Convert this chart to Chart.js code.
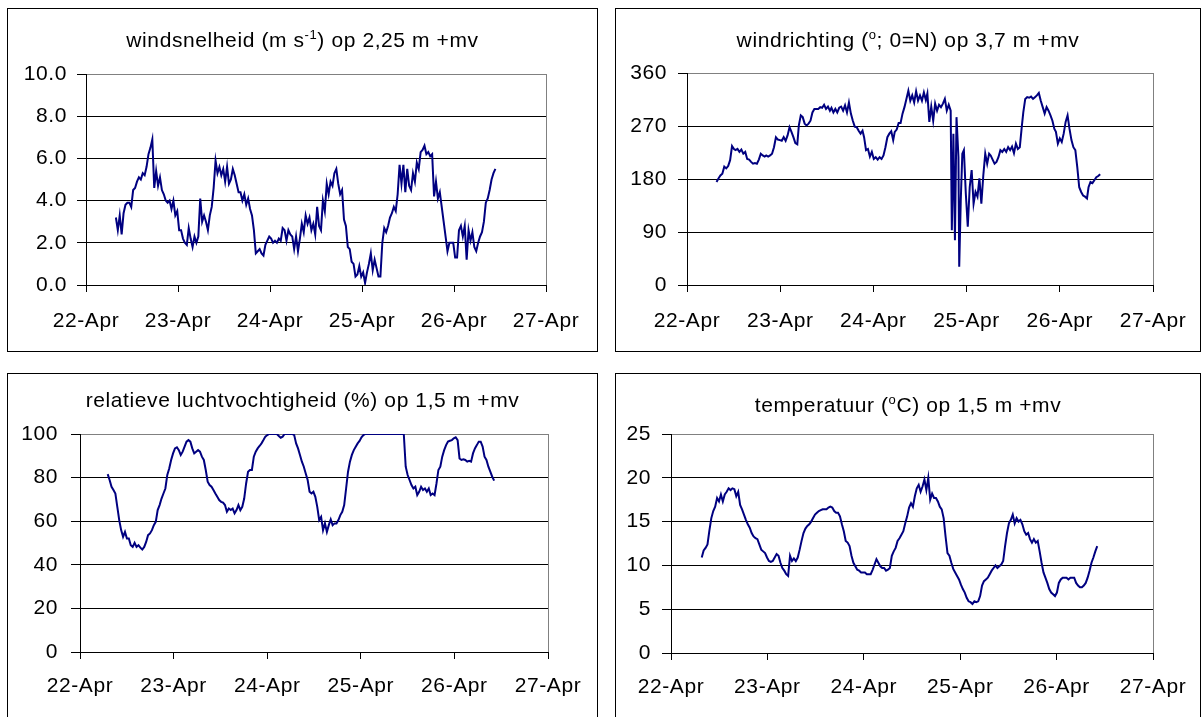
<!DOCTYPE html>
<html>
<head>
<meta charset="utf-8">
<script src="https://cdn.jsdelivr.net/npm/chart.js@4.4.1/dist/chart.umd.min.js"></script>
<style>
  html, body { margin: 0; padding: 0; background: #fff; }
  body { width: 1201px; height: 717px; position: relative; overflow: hidden; }
  .panel { position: absolute; border: 1px solid #000; box-sizing: border-box; }
  canvas { position: absolute; }
</style>
</head>
<body>
<div class="panel" id="b1"></div>
<div class="panel" id="b2"></div>
<div class="panel" id="b3"></div>
<div class="panel" id="b4"></div>
<canvas id="c1"></canvas>
<canvas id="c2"></canvas>
<canvas id="c3"></canvas>
<canvas id="c4"></canvas>
<script>
// Tick labels of the shared time axis (hours since 22-Apr 00:00, one label per day)
const dayLabels = ['22-Apr', '23-Apr', '24-Apr', '25-Apr', '26-Apr', '27-Apr'];

// Wind speed (m/s) at 2.25 m, half-hourly from 22-Apr 07:48
const windSpeedStartHour = 7.8;
const windSpeedStepHours = 0.5;
const windSpeed = [
  3.2,2.6,3.3,2.4,3.4,3.8,3.9,3.9,3.7,4.5, 4.6,4.9,5.1,5.0,5.3,5.2,5.6,6.2,6.5,6.9,
  4.6,5.4,4.7,5.1,4.5,4.3,4.0,3.9,4.0,3.6, 4.0,3.3,3.5,2.6,2.6,2.2,2.0,1.9,2.7,2.2,
  1.8,2.3,2.0,2.3,4.1,3.0,3.3,3.0,2.6,3.3, 3.7,4.6,5.9,5.3,5.6,5.2,5.5,4.9,5.6,4.8,
  5.0,5.5,5.2,4.8,4.4,4.4,4.0,4.3,3.8,4.1, 3.6,3.3,2.6,1.5,1.6,1.7,1.5,1.4,1.9,2.1,
  2.3,2.2,2.0,2.1,2.0,2.2,2.1,2.7,2.6,2.1, 2.6,2.4,2.3,1.7,2.3,1.6,2.2,2.9,2.5,3.3,
  2.9,3.2,2.6,2.9,2.4,3.7,2.8,2.6,4.0,3.5, 4.8,4.3,4.9,4.7,5.3,5.5,4.8,4.3,4.5,3.1,
  2.8,1.8,1.7,1.1,1.0,0.4,0.5,0.9,0.4,0.6, 0.1,0.6,1.0,1.5,0.7,1.2,0.8,0.4,0.4,2.0,
  2.7,2.5,2.8,3.2,3.4,3.7,3.5,4.3,5.7,4.8, 5.7,4.4,5.5,4.7,4.5,5.3,4.9,5.8,5.5,6.3,
  6.4,6.6,6.2,6.3,6.1,6.2,4.2,4.9,4.1,4.4, 3.7,3.0,2.3,1.6,2.0,2.0,2.0,1.3,1.3,2.6,
  2.8,2.3,2.8,1.2,2.6,2.1,2.5,1.8,1.6,2.0, 2.3,2.5,3.0,3.9,4.1,4.5,5.0,5.3,5.5
];

// Wind direction (degrees, 0 = N) at 3.7 m
const windDirHours = [
  7.6,8.1,8.6,9.1,9.6,10.1,10.6,11.1,11.6,12.1, 12.5,13.0,13.5,14.0,14.5,15.0,15.5,16.0,16.5,17.0,
  17.5,18.0,18.5,19.0,19.5,20.0,20.4,20.9,21.4,21.9, 22.4,22.9,23.4,23.9,24.4,24.9,25.4,25.9,26.4,26.9,
  27.4,27.9,28.4,28.8,29.3,29.8,30.3,30.8,31.3,31.8, 32.3,32.8,33.3,33.8,34.3,34.8,35.3,35.8,36.3,36.8,
  37.2,37.7,38.2,38.7,39.2,39.7,40.2,40.7,41.2,41.7, 42.2,42.7,43.2,43.7,44.2,44.7,45.2,45.6,46.1,46.6,
  47.1,47.6,48.1,48.6,49.1,49.6,50.1,50.6,51.1,51.6, 52.1,52.6,53.1,53.5,54.0,54.5,55.0,55.5,56.0,56.5,
  57.0,57.5,58.0,58.5,59.0,59.5,60.0,60.5,61.0,61.5, 61.9,62.4,62.9,63.4,63.9,64.4,64.9,65.4,65.9,66.4,
  66.9,67.4,67.9,
  68.2,68.6,69.0,69.4,69.9,70.1,70.5,70.9,71.3,
  71.8,72.3,72.8,73.3,73.8,74.3,74.8,75.3,75.8,76.3, 76.8,77.3,77.8,78.2,78.7,79.2,79.7,80.2,80.7,81.2,
  81.7,82.2,82.7,83.2,83.7,84.2,84.7,85.2,85.7,86.2, 86.6,87.1,87.6,88.1,88.6,89.1,89.6,90.1,90.6,91.1,
  91.6,92.1,92.6,93.1,93.6,94.1,94.6,95.0,95.5,96.0, 96.5,97.0,97.5,98.0,98.5,99.0,99.5,100.0,100.5,101.0,
  101.5,102.0,102.5,103.0,103.4,103.9,104.4,104.9,105.4,105.9, 106.4
];
const windDir = [
  175,181,186,189,201,198,202,212,236,231, 229,231,226,230,223,226,214,213,209,206,
  207,206,213,223,220,218,220,218,220,223, 234,251,247,246,245,251,245,254,268,260,
  251,241,239,271,288,285,274,271,274,279, 293,299,299,299,302,301,306,299,303,296,
  301,293,299,293,301,303,296,305,293,310, 291,279,269,268,262,257,262,251,229,231,
  218,226,214,217,213,217,214,220,234,251, 257,261,246,260,264,275,275,291,302,316,
  330,313,322,310,329,313,322,313,327,314, 325,277,303,279,308,296,306,302,308,316,
  296,306,296,
  93,257,76,285,217,31,144,223,229,
  155,99,166,195,138,158,150,181,138,186, 223,206,223,220,213,206,209,217,229,226,
  231,226,234,229,235,224,240,231,234,268, 293,316,319,318,320,316,319,322,326,313,
  302,291,302,296,288,279,265,260,240,249, 243,257,277,288,265,246,234,229,200,166,
  158,152,150,147,166,175,173,178,183,185, 188
];

// Relative humidity (%) at 1.5 m
const humidityStartHour = 7.1;
const humidityStepHours = 0.493;
const humidity = [
  81.6,78.9,75.8,74.3,72.7,66.6,60.5,55.9,52.8,55.1, 52.1,52.1,49.0,48.2,50.1,48.2,49.0,47.9,47.0,48.2,
  50.5,53.6,54.4,55.9,58.2,59.7,65.1,67.4,70.4,72.7, 75.0,81.2,84.2,88.1,91.1,93.4,93.9,92.6,90.4,91.9,
  94.2,96.5,97.2,96.5,93.4,91.1,91.9,92.6,91.9,89.6, 88.1,83.5,78.1,76.6,75.8,74.3,72.7,71.2,69.7,68.9,
  68.5,67.4,64.3,65.8,65.1,65.8,63.6,65.1,67.4,65.1, 66.6,70.4,77.3,82.7,83.5,83.5,89.6,91.9,93.4,94.5,
  95.7,97.2,98.8,99.5,100,100,100,100,100,99.1, 98.3,98.8,100,100,100,100,100,99.5,95.7,93.4,
  90.4,87.3,85.0,81.9,78.9,73.5,72.7,73.5,71.2,66.6, 60.5,62.0,55.9,59.0,55.1,58.2,60.8,58.2,59.0,59.0,
  60.5,62.8,64.3,67.4,75.0,82.7,87.3,90.4,92.6,94.2, 95.7,96.8,98.5,99.5,100,100,100,100,100,100,
  100,100,100,100,100,100,100,100,100,100, 100,100,100,100,100,85.0,81.2,78.9,76.6,75.0,
  75.8,72.0,73.5,75.8,74.3,75.0,73.5,75.0,72.0,72.7, 72.0,77.3,83.5,85.0,89.6,92.6,94.9,96.5,96.9,97.2,
  98.0,98.5,97.2,88.8,88.1,88.4,88.1,87.3,87.7,87.3, 91.1,93.4,94.9,96.5,96.5,94.2,89.6,88.1,85.0,82.7,
  80.4,78.6
];

// Air temperature (deg C) at 1.5 m
const temperatureStartHour = 7.65;
const temperatureStepHours = 0.478;
const temperature = [
  10.9,11.7,12.0,12.4,14.0,15.4,16.2,16.7,17.7,17.3, 18.1,17.3,18.1,18.4,18.8,18.6,18.8,18.7,17.9,18.4,
  16.9,16.4,15.8,15.2,14.7,14.3,13.7,13.3,13.1,13.0, 12.4,11.8,11.6,11.4,10.9,10.5,10.4,10.5,10.9,11.3,
  11.1,10.3,9.7,9.4,9.0,8.8,11.1,10.5,10.8,10.5, 10.9,11.8,12.8,13.7,14.2,14.5,14.7,15.0,15.4,15.8,
  16.0,16.2,16.3,16.4,16.4,16.4,16.6,16.7,16.6,16.2, 16.0,16.0,15.6,14.7,13.9,12.8,12.6,12.2,11.1,10.3,
  9.9,9.5,9.4,9.2,9.2,9.2,9.0,9.0,9.0,9.5, 10.1,10.7,10.3,9.9,9.7,9.7,9.4,9.5,9.7,11.1,
  11.6,12.0,12.8,13.1,13.5,13.9,14.8,15.6,16.6,17.1, 16.7,17.9,18.8,19.2,18.4,19.0,19.8,18.6,20.0,17.5,
  18.2,17.7,17.7,17.3,16.7,16.4,15.4,13.3,11.4,11.1, 10.3,9.6,9.2,8.8,8.4,7.8,7.3,6.9,6.3,5.9,
  5.8,5.6,5.9,5.8,5.9,6.5,7.7,8.2,8.4,8.6, 9.0,9.4,9.7,10.0,9.7,9.9,10.1,10.5,12.2,13.7,
  14.8,15.2,15.8,14.8,15.4,15.0,15.2,14.7,13.9,13.5, 13.7,13.0,12.6,13.0,12.6,12.8,11.6,10.3,9.2,8.6,
  8.0,7.3,6.9,6.7,6.5,6.9,8.0,8.4,8.6,8.6, 8.6,8.4,8.6,8.6,8.6,8.0,7.7,7.5,7.5,7.7,
  8.0,8.6,9.4,10.3,10.9,11.6,12.2
];

// ---- drawing ----
const FONT = '"Liberation Sans", Arial, sans-serif';
const FONT_SIZE = 21;
const LETTER_SPACING = '0.6px';
const LINE_COLOR = '#000080';

function regularSeries(start, step, values) {
  return values.map((v, i) => ({ x: start + i * step, y: v }));
}
function pairedSeries(hours, values) {
  return values.map((v, i) => ({ x: hours[i], y: v }));
}

// Slightly wider glyph spacing for all canvas text
const spacingPlugin = {
  id: 'letterSpacing',
  beforeUpdate(chart) { chart.ctx.letterSpacing = LETTER_SPACING; },
  beforeDraw(chart) { chart.ctx.letterSpacing = LETTER_SPACING; }
};

// Grey right-hand edge of the plot area
const framePlugin = {
  id: 'plotFrame',
  beforeDatasetsDraw(chart) {
    const { ctx, chartArea: a } = chart;
    const x = Math.round(a.right - 0.5) + 0.5;
    ctx.save();
    ctx.strokeStyle = '#808080';
    ctx.lineWidth = 1;
    ctx.beginPath();
    ctx.moveTo(x, a.top);
    ctx.lineTo(x, a.bottom);
    ctx.stroke();
    ctx.restore();
  }
};

// Title with optional superscript pieces, centred on the panel
const titlePlugin = {
  id: 'panelTitle',
  afterDraw(chart, args, opts) {
    const ctx = chart.ctx;
    ctx.save();
    ctx.letterSpacing = LETTER_SPACING;
    ctx.fillStyle = '#000';
    ctx.textAlign = 'left';
    ctx.textBaseline = 'alphabetic';
    const main = opts.size + 'px ' + FONT;
    const sup = opts.supSize + 'px ' + FONT;
    let total = 0;
    const widths = opts.segments.map(s => {
      ctx.font = s.sup ? sup : main;
      const w = ctx.measureText(s.text).width;
      total += w;
      return w;
    });
    let x = chart.width / 2 - total / 2;
    opts.segments.forEach((s, i) => {
      ctx.font = s.sup ? sup : main;
      ctx.fillText(s.text, x, opts.baseline - (s.sup ? opts.supRaise : 0));
      x += widths[i];
    });
    ctx.restore();
  }
};

const panels = [
  {
    canvas: 'c1', border: 'b1', box: [7, 8, 597, 351], area: [86, 74, 546, 285],
    titleBaseline: 47,
    title: [{ text: 'windsnelheid (m s' }, { text: '-1', sup: true }, { text: ') op 2,25 m +mv' }],
    points: regularSeries(windSpeedStartHour, windSpeedStepHours, windSpeed),
    yMin: 0, yMax: 10, yStep: 2, yFormat: v => v.toFixed(1), xPad: 17, yPad: 10
  },
  {
    canvas: 'c2', border: 'b2', box: [615, 8, 1200, 351], area: [687, 73, 1153, 285],
    titleBaseline: 47,
    title: [{ text: 'windrichting (' }, { text: 'o', sup: true }, { text: '; 0=N) op 3,7 m +mv' }],
    points: pairedSeries(windDirHours, windDir),
    yMin: 0, yMax: 360, yStep: 90, yFormat: v => String(v), xPad: 17, yPad: 11
  },
  {
    canvas: 'c3', border: 'b3', box: [7, 373, 597, 740], area: [80, 434, 548, 652],
    titleBaseline: 407,
    title: [{ text: 'relatieve luchtvochtigheid (%) op 1,5 m +mv' }],
    points: regularSeries(humidityStartHour, humidityStepHours, humidity),
    yMin: 0, yMax: 100, yStep: 20, yFormat: v => String(v), xPad: 15, yPad: 13
  },
  {
    canvas: 'c4', border: 'b4', box: [615, 373, 1200, 740], area: [671, 434, 1153, 653],
    titleBaseline: 412,
    title: [{ text: 'temperatuur (' }, { text: 'o', sup: true }, { text: 'C) op 1,5 m +mv' }],
    points: regularSeries(temperatureStartHour, temperatureStepHours, temperature),
    yMin: 0, yMax: 25, yStep: 5, yFormat: v => String(v), xPad: 15, yPad: 11
  }
];

const X_AXIS_HEIGHT = 50;

panels.forEach(p => {
  const [L, T, R, B] = p.box;
  const bd = document.getElementById(p.border);
  bd.style.left = L + 'px';
  bd.style.top = T + 'px';
  bd.style.width = (R - L + 1) + 'px';
  bd.style.height = (B - T + 1) + 'px';

  const W = R - L + 1;
  const H = Math.min(B, 716) - T + 1;
  const cv = document.getElementById(p.canvas);
  cv.style.left = L + 'px';
  cv.style.top = T + 'px';
  cv.width = W;
  cv.height = H;

  const a = { left: p.area[0] - L, top: p.area[1] - T, right: p.area[2] - L, bottom: p.area[3] - T };
  const tickFont = { family: FONT, size: FONT_SIZE };

  new Chart(cv, {
    type: 'line',
    data: {
      datasets: [{
        data: p.points,
        borderColor: LINE_COLOR,
        borderWidth: 2,
        pointRadius: 0,
        tension: 0,
        fill: false
      }]
    },
    options: {
      responsive: false,
      animation: false,
      devicePixelRatio: 1,
      events: [],
      layout: {
        padding: { left: 0, top: a.top, right: W - a.right, bottom: H - a.bottom - X_AXIS_HEIGHT }
      },
      plugins: {
        legend: { display: false },
        tooltip: { enabled: false },
        title: { display: false },
        panelTitle: { segments: p.title, baseline: p.titleBaseline - T, size: FONT_SIZE, supSize: 13, supRaise: 8 }
      },
      scales: {
        x: {
          type: 'linear',
          min: 0,
          max: 120,
          ticks: {
            stepSize: 24,
            autoSkip: false,
            maxRotation: 0,
            padding: p.xPad,
            color: '#000',
            font: tickFont,
            callback: v => dayLabels[Math.round(v / 24)]
          },
          grid: { drawOnChartArea: false, drawTicks: true, tickLength: 7, tickColor: '#000', tickWidth: 1 },
          border: { display: true, color: '#000', width: 1 },
          afterFit(s) { s.height = X_AXIS_HEIGHT; s.paddingLeft = 0; s.paddingRight = 0; }
        },
        y: {
          min: p.yMin,
          max: p.yMax,
          ticks: {
            stepSize: p.yStep,
            padding: p.yPad,
            color: '#000',
            font: tickFont,
            callback: v => p.yFormat(v)
          },
          grid: {
            color: c => (c.tick && c.tick.value === p.yMax) ? '#808080' : '#000',
            lineWidth: 1,
            drawTicks: true,
            tickLength: 9,
            tickColor: '#000',
            tickWidth: 1
          },
          border: { display: true, color: '#000', width: 1 },
          afterFit(s) { s.width = a.left; s.paddingTop = 0; s.paddingBottom = 0; }
        }
      }
    },
    plugins: [spacingPlugin, framePlugin, titlePlugin]
  });
});
</script>
</body>
</html>
